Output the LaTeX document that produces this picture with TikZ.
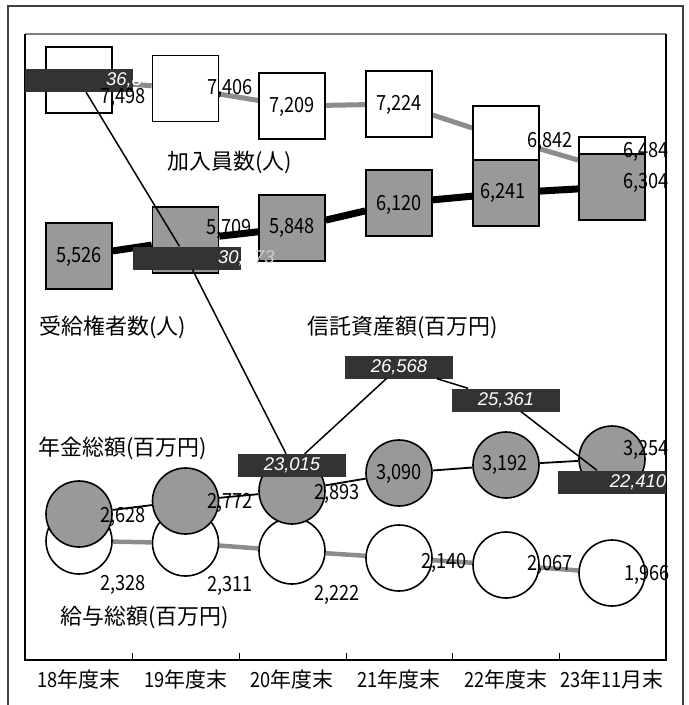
\documentclass[tikz,border=0pt]{standalone}
\usepackage{fontspec}
\setmainfont{Noto Sans CJK JP}
\newfontfamily\numfont{Noto Sans CJK JP}[FakeStretch=0.87]
\newfontfamily\boxfont{Liberation Sans}
\pgfdeclarelayer{background}
\pgfsetlayers{background,main}

\begin{document}
\begin{tikzpicture}[x=1bp,y=-1bp,
	sqw/.style={draw,line width=1.6bp,fill=white,minimum size=66bp,inner sep=0pt},
	sqg/.style={sqw,fill=black!40},
	cw/.style={circle,draw,line width=1.6bp,fill=white,minimum size=66bp,inner sep=0pt},
	cg/.style={cw,fill=black!40},
	tbox/.style={fill=black!80,minimum width=108bp,minimum height=23bp,inner sep=0pt},
	val/.style={inner sep=0pt,font=\fontsize{21}{24}\numfont},
	tval/.style={inner sep=0pt,text=white,font=\fontsize{18.5}{22}\boxfont\itshape},
	ttl/.style={inner sep=0pt,font=\fontsize{22}{26}\selectfont},
	cat/.style={inner sep=0pt,font=\fontsize{21}{24}\selectfont},
	mline/.style={line width=5bp,black!45},
	bline/.style={line width=7bp},
	pline/.style={line width=1.8bp},
	sline/.style={line width=4.5bp,black!45},
	tline/.style={line width=1.5bp}]
	
	\useasboundingbox (0,0) rectangle (689,705);
	
	\draw[black!75,line width=1.2bp] (8,710) -- (8,6) -- (683,6) -- (683,710);
	
	\draw[black!50,line width=1.5bp] (25,34) -- (666,34);
	\draw[line width=1.3bp] (666,34) -- (666,660) -- (25,660) -- (25,34);
	\draw[line width=0.8bp] (132,653) -- (132,660) (239,653) -- (239,660) (346,653) -- (346,660)
		(452,653) -- (452,660) (559,653) -- (559,660);
	
	\node[cat] (c18) at (79,680) {{\numfont 18}年度末};
	\node[cat] (c19) at (185.5,680) {{\numfont 19}年度末};
	\node[cat] (c20) at (292,680) {{\numfont 20}年度末};
	\node[cat] (c21) at (399,680) {{\numfont 21}年度末};
	\node[cat] (c22) at (506,680) {{\numfont 22}年度末};
	\node[cat] (c23) at (612,680) {{\numfont 23}年{\numfont 11}月末};
	
	% 加入員数
	\node[sqw] (m18) at (79,80) {};
	\node[sqw] (m19) at (185.5,88.5) {};
	\node[sqw] (m20) at (292,106) {};
	\node[sqw] (m21) at (399,104) {};
	\node[sqw] (m22) at (506,139) {};
	\node[sqw] (m23) at (612,170) {};
	
	% 受給権者数
	\node[sqg] (b18) at (79,256) {};
	\node[sqg] (b19) at (185.5,240) {};
	\node[sqg] (b20) at (292,228) {};
	\node[sqg] (b21) at (399,203) {};
	\node[sqg] (b22) at (506,193) {};
	\node[sqg] (b23) at (612,187) {};
	
	% 給与総額
	\node[cw] (s18) at (79,541) {};
	\node[cw] (s19) at (185.5,543) {};
	\node[cw] (s20) at (292,551) {};
	\node[cw] (s21) at (399,558) {};
	\node[cw] (s22) at (506,565) {};
	\node[cw] (s23) at (612,573) {};
	
	% 年金総額
	\node[cg] (p18) at (79,514) {};
	\node[cg] (p19) at (185.5,501) {};
	\node[cg] (p20) at (292,491) {};
	\node[cg] (p21) at (399,473) {};
	\node[cg] (p22) at (506,465) {};
	\node[cg] (p23) at (612,459) {};
	
	\begin{pgfonlayer}{background}
	\draw[mline] (m18) -- (m19) -- (m20) -- (m21) -- (m22) -- (m23);
	\draw[bline] (b18) -- (b19) -- (b20) -- (b21) -- (b22) -- (b23);
	\draw[sline] (s18) -- (s19) -- (s20) -- (s21) -- (s22) -- (s23);
	\draw[pline] (p18) -- (p19) -- (p20) -- (p21) -- (p22) -- (p23);
	\end{pgfonlayer}
	
	% 信託資産額
	\node[tbox] (t18) at (79,80.5) {};
	\node[tbox] (t19) at (186.5,258) {};
	\node[tbox] (t20) at (292,465.5) {};
	\node[tbox] (t21) at (399,367) {};
	\node[tbox] (t22) at (506,400) {};
	\node[tbox] (t23) at (612,482) {};
	
	\draw[tline] (t18) -- (t19) -- (t20) -- (t21) -- (t22) -- (t23);
	
	\node[tval,anchor=west] (t18v) at (106,80) {36,8};
	\node[tval,anchor=west] (t19v) at (218,258) {30,\phantom{0}\textcolor{black!20}{73}};
	\node[tval] (t20v) at (292,465) {23,015};
	\node[tval] (t21v) at (399,367) {26,568};
	\node[tval] (t22v) at (506,400) {25,361};
	\node[tval] (t23v) at (638,482) {22,410};
	
	\node[val] (m18v) at (123,98) {7,498};
	\node[val] (m19v) at (230,89) {7,406};
	\node[val] (m20v) at (292,107) {7,209};
	\node[val] (m21v) at (399,105) {7,224};
	\node[val] (m22v) at (550,142) {6,842};
	\node[val] (m23v) at (646,152) {6,484};
	
	\node[val] (b18v) at (79,257) {5,526};
	\node[val] (b19v) at (229,229) {5,709};
	\node[val] (b20v) at (292,228) {5,848};
	\node[val] (b21v) at (399,205) {6,120};
	\node[val] (b22v) at (503,193) {6,241};
	\node[val] (b23v) at (646,183) {6,304};
	
	\node[val] (p18v) at (123,517) {2,628};
	\node[val] (p19v) at (230,503) {2,772};
	\node[val] (p20v) at (337,494) {2,893};
	\node[val] (p21v) at (399,474) {3,090};
	\node[val] (p22v) at (505,465) {3,192};
	\node[val] (p23v) at (646,450) {3,254};
	
	\node[val] (s18v) at (123,585) {2,328};
	\node[val] (s19v) at (230,586) {2,311};
	\node[val] (s20v) at (337,595) {2,222};
	\node[val] (s21v) at (444,563) {2,140};
	\node[val] (s22v) at (550,565) {2,067};
	\node[val] (s23v) at (647,575) {1,966};
	
	\node[ttl] (mtitle) at (230,162) {加入員数(人)};
	\node[ttl] (btitle) at (113,327) {受給権者数(人)};
	\node[ttl] (ttitle) at (403,327) {信託資産額(百万円)};
	\node[ttl] (ptitle) at (123,448) {年金総額(百万円)};
	\node[ttl] (stitle) at (145,617) {給与総額(百万円)};
	
\end{tikzpicture}
\end{document}
